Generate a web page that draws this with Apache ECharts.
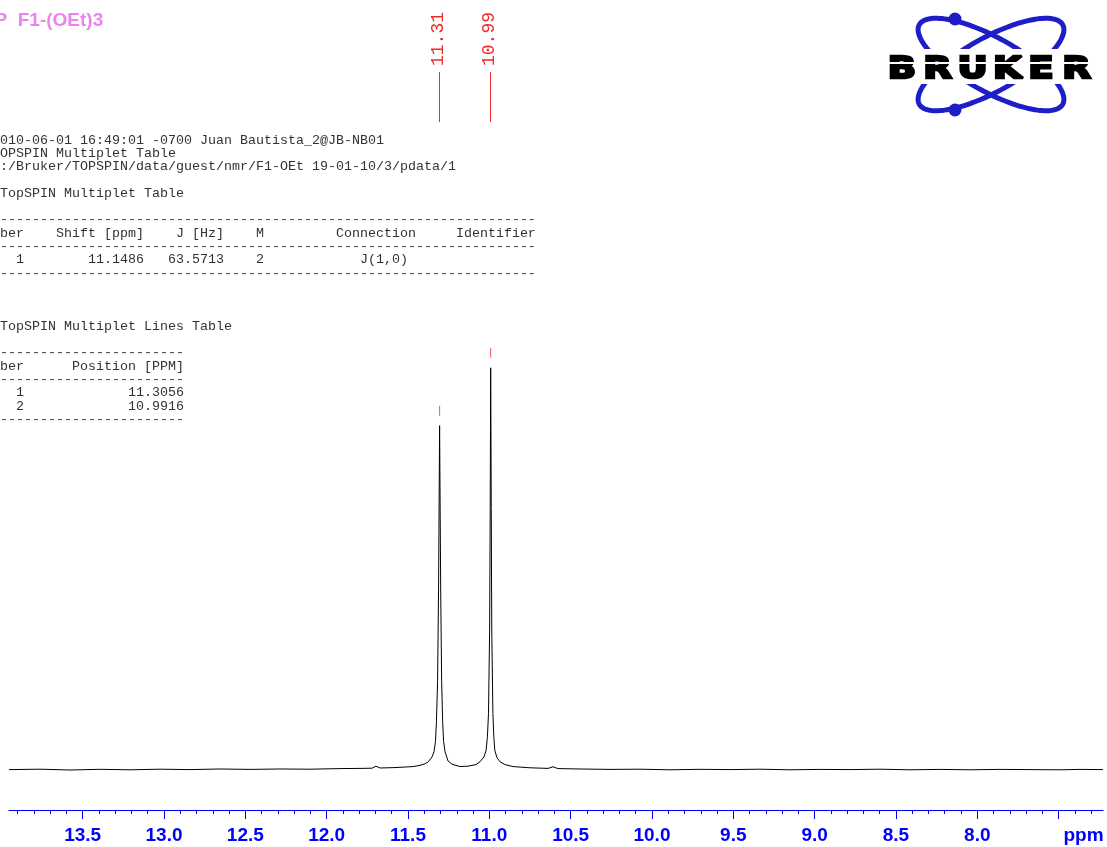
<!DOCTYPE html>
<html>
<head>
<meta charset="utf-8">
<script src="https://cdn.jsdelivr.net/npm/echarts@6/dist/echarts.min.js"></script>
<style>
  html, body { margin: 0; padding: 0; background: #ffffff; }
  #chart { width: 1107px; height: 847px; }
</style>
</head>
<body>
<div id="chart"></div>
<script>
// 1H spectrum trace: chemical shift (ppm) and relative intensity
const specPpm = [
  13.953, 13.762, 13.578, 13.393, 13.209, 13.024, 12.840, 12.656, 12.471, 12.287,
  12.102, 11.918, 11.795, 11.721, 11.697, 11.672, 11.580, 11.469, 11.426, 11.395,
  11.375, 11.352, 11.340, 11.331, 11.325, 11.318, 11.312, 11.3056, 11.299, 11.293,
  11.287, 11.281, 11.272, 11.254, 11.229, 11.180, 11.131, 11.082, 11.057, 11.033,
  11.020, 11.012, 11.005, 10.998, 10.9945, 10.9916, 10.988, 10.985, 10.978, 10.972,
  10.966, 10.953, 10.934, 10.904, 10.854, 10.750, 10.639, 10.608, 10.578, 10.442,
  10.258, 10.074, 9.889, 9.705, 9.520, 9.336, 9.152, 8.967, 8.783, 8.598,
  8.414, 8.229, 8.045, 7.861, 7.676, 7.492, 7.369, 7.227
];
const specIntensity = [
  0.05, 0.15, -0.05, 0.12, 0.0, 0.15, 0.05, 0.2, 0.1, 0.2,
  0.15, 0.3, 0.35, 0.4, 0.9, 0.45, 0.55, 0.8, 1.1, 1.5,
  2.0, 3.2, 4.5, 7, 12, 22, 45, 85.6, 45, 22,
  12, 7, 4.5, 2.2, 1.4, 0.8, 0.9, 1.3, 2.0, 3.2,
  4.8, 8, 14, 35, 65, 100, 65, 35, 14, 8,
  4.8, 3.0, 2.0, 1.3, 0.8, 0.5, 0.35, 0.75, 0.3, 0.2,
  0.1, 0.15, 0.0, 0.12, 0.05, 0.15, 0.0, 0.1, 0.05, 0.15,
  0.0, 0.1, 0.0, 0.1, 0.05, 0.0, 0.1, 0.05
];

// picked peaks
const peakPpm = [11.3056, 10.9916];
const peakIntensity = [85.6, 100];

// multiplet analysis
const multipletNumber = [1];
const multipletShift = [11.1486];
const multipletJ = [63.5713];
const multipletM = [2];
const multipletConnection = ['J(1,0)'];

// axis ticks
const majorTickValues = [7.5, 8.0, 8.5, 9.0, 9.5, 10.0, 10.5, 11.0, 11.5, 12.0, 12.5, 13.0, 13.5];
const tickLabels = ['8.0', '8.5', '9.0', '9.5', '10.0', '10.5', '11.0', '11.5', '12.0', '12.5', '13.0', '13.5'];
const axisMin = 7.227;
const axisMax = 13.953;

const minorTickValues = [];
for (let k = 73; k <= 139; k++) minorTickValues.push(k / 10);

const BLUE = '#0000ff';
const RED = '#ee2a2a';
const MONO = '"Liberation Mono", "Courier New", monospace';
const SANS = '"Liberation Sans", Arial, sans-serif';

// ---- text report block (monospace columns) ----
function padL(s, n) { s = String(s); return s.length >= n ? s : ' '.repeat(n - s.length) + s; }
const longRule = '-'.repeat(70);
const shortRule = '-'.repeat(26);
const reportLines = [
  '  2010-06-01 16:49:01 -0700 Juan Bautista_2@JB-NB01',
  '  TOPSPIN Multiplet Table',
  '  C:/Bruker/TOPSPIN/data/guest/nmr/F1-OEt 19-01-10/3/pdata/1',
  '',
  '   TopSPIN Multiplet Table',
  '',
  longRule,
  'Number    Shift [ppm]    J [Hz]    M         Connection     Identifier',
  longRule
];
multipletNumber.forEach((n, i) => {
  reportLines.push(
    padL(n, 6) + padL(multipletShift[i].toFixed(4), 15) + padL(multipletJ[i].toFixed(4), 10) +
    padL(multipletM[i], 5) + ' '.repeat(12) + multipletConnection[i]
  );
});
reportLines.push(longRule, '', '', '', '   TopSPIN Multiplet Lines Table', '', shortRule,
  'Number      Position [PPM]', shortRule);
peakPpm.forEach((p, i) => {
  reportLines.push(padL(i + 1, 6) + padL(p.toFixed(4), 20));
});
reportLines.push(shortRule);

// ---- logo outline points (decorative ellipses) ----
function ellipsePoints(cx, cy, a, b, phi) {
  const pts = [];
  for (let i = 0; i < 144; i++) {
    const t = i / 144 * Math.PI * 2;
    const ex = a * Math.cos(t), ey = b * Math.sin(t);
    pts.push([cx + ex * Math.cos(phi) - ey * Math.sin(phi), cy + ex * Math.sin(phi) + ey * Math.cos(phi)]);
  }
  return pts;
}
const logoBlue = '#1e1ec8';
const tilt = 29 * Math.PI / 180;
const logoLetters = [['B', 902], ['R', 937.5], ['U', 972.5], ['K', 1007.5], ['E', 1041], ['R', 1076.5]];

const chart = echarts.init(document.getElementById('chart'), null, { renderer: 'canvas' });

const option = {
  animation: false,
  backgroundColor: '#ffffff',
  grid: { left: 9, right: 4, top: 6, bottom: 37, outerBoundsMode: 'none', containLabel: false },
  xAxis: [
    {
      type: 'value', inverse: true, min: axisMin, max: axisMax, position: 'bottom',
      axisLine: { show: true, onZero: false, lineStyle: { color: BLUE, width: 1 } },
      axisTick: { show: true, length: 9, lineStyle: { color: BLUE, width: 1 }, customValues: majorTickValues },
      axisLabel: {
        show: true, customValues: tickLabels.map(Number), margin: 16,
        color: BLUE, fontFamily: SANS, fontWeight: 'bold', fontSize: 19,
        formatter: v => tickLabels[tickLabels.map(Number).indexOf(v)] || v.toFixed(1)
      },
      splitLine: { show: false }
    },
    {
      type: 'value', inverse: true, min: axisMin, max: axisMax, position: 'bottom', offset: 0,
      axisLine: { show: false, onZero: false },
      axisTick: { show: true, length: 4, lineStyle: { color: BLUE, width: 1 }, customValues: minorTickValues },
      axisLabel: { show: false },
      splitLine: { show: false }
    }
  ],
  yAxis: { type: 'value', min: -10, max: 190, show: false, splitLine: { show: false } },
  series: [
    {
      name: 'spectrum', type: 'line', xAxisIndex: 0, yAxisIndex: 0,
      data: specPpm.map((p, i) => [p, specIntensity[i]]),
      symbol: 'none', smooth: false,
      lineStyle: { color: '#000000', width: 1, join: 'round' },
      z: 3
    },
    {
      name: 'peak marks', type: 'scatter', xAxisIndex: 0, yAxisIndex: 0,
      data: peakPpm.map((p, i) => [p, peakIntensity[i]]),
      symbol: 'rect', symbolSize: [1, 10], symbolOffset: [0, -15],
      itemStyle: { color: RED }, z: 4
    },
    {
      name: 'peak labels', type: 'custom', xAxisIndex: 0, yAxisIndex: 0,
      data: peakPpm.map((p, i) => [p, peakIntensity[i]]),
      renderItem: function (params, api) {
        const px = api.coord([api.value(0), 0])[0];
        const x = Math.round(px - 0.5) + 0.5;
        return {
          type: 'group',
          children: [
            { type: 'line', shape: { x1: x, y1: 72, x2: x, y2: 122 }, style: { stroke: RED, lineWidth: 1 } },
            {
              type: 'text', x: x - 1.3, y: 39, rotation: Math.PI / 2,
              style: { text: peakPpm[params.dataIndex].toFixed(2), font: '18px ' + MONO, fill: RED, align: 'center', verticalAlign: 'middle' }
            }
          ]
        };
      },
      z: 4
    }
  ],
  graphic: [
    {
      type: 'text', x: -5.5, y: 21,
      style: { text: 'P  F1-(OEt)3', font: 'bold 19px ' + SANS, fill: '#ee82ee', align: 'left', verticalAlign: 'middle' }
    },
    {
      type: 'text', x: -24, y: 140 - 6.65,
      style: { text: reportLines.join('\n'), font: '13.33px ' + MONO, lineHeight: 13.3, fill: '#333333', align: 'left', verticalAlign: 'top' }
    },
    {
      type: 'text', x: 1083.5, y: 836,
      style: { text: 'ppm', font: 'bold 19px ' + SANS, fill: BLUE, align: 'center', verticalAlign: 'middle' }
    },
    // logo
    { type: 'polygon', shape: { points: ellipsePoints(991, 64.5, 82, 27, tilt) }, style: { fill: 'none', stroke: logoBlue, lineWidth: 5 } },
    { type: 'polygon', shape: { points: ellipsePoints(991, 64.5, 82, 27, -tilt) }, style: { fill: 'none', stroke: logoBlue, lineWidth: 5 } },
    { type: 'circle', shape: { cx: 955, cy: 19, r: 6.5 }, style: { fill: logoBlue } },
    { type: 'circle', shape: { cx: 955, cy: 110, r: 6.5 }, style: { fill: logoBlue } },
    { type: 'rect', shape: { x: 882, y: 49, width: 216, height: 35 }, style: { fill: '#ffffff' } }
  ].concat(logoLetters.map(([ch, cx]) => ({
    type: 'text', x: cx, y: 69.5, scaleX: 1.2,
    style: { text: ch, font: 'bold 31px "DejaVu Sans"', fill: '#000000', stroke: '#000000', lineWidth: 2.5, align: 'center', verticalAlign: 'middle' }
  }))).concat([
    { type: 'rect', shape: { x: 887, y: 62, width: 206, height: 2 }, style: { fill: '#ffffff' } }
  ])
};

chart.setOption(option);
</script>
</body>
</html>
